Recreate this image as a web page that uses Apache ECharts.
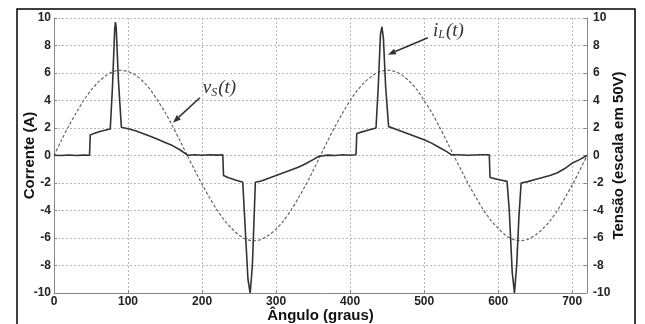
<!DOCTYPE html>
<html>
<head>
<meta charset="utf-8">
<script src="https://cdn.jsdelivr.net/npm/echarts@6/dist/echarts.min.js"></script>
<style>
  html, body { margin: 0; padding: 0; background: #fff; }
  #chart { width: 645px; height: 324px; }
</style>
</head>
<body>
<div id="chart"></div>
<script>
// Angle grid for the source voltage samples (degrees)
const vsAngles = [
  0, 10, 20, 30, 40, 50, 60, 70, 80, 90, 100, 110, 120, 130, 140, 150, 160, 170, 180,
  190, 200, 210, 220, 230, 240, 250, 260, 270, 280, 290, 300, 310, 320, 330, 340, 350, 360,
  370, 380, 390, 400, 410, 420, 430, 440, 450, 460, 470, 480, 490, 500, 510, 520, 530, 540,
  550, 560, 570, 580, 590, 600, 610, 620, 630, 640, 650, 660, 670, 680, 690, 700, 710, 720
];
// Source voltage v_S(t), scaled by 50 V per division
const vsValues = [
  0, 1.1, 2.15, 3.1, 4.0, 4.75, 5.35, 5.8, 6.1, 6.2, 6.1, 5.85, 5.4, 4.8, 4.0, 3.15, 2.15, 1.1, 0,
  -1.05, -2.1, -3.05, -3.95, -4.7, -5.3, -5.8, -6.1, -6.2, -6.1, -5.8, -5.35, -4.75, -4.0, -3.1, -2.15, -1.1, 0,
  1.1, 2.15, 3.1, 4.0, 4.75, 5.35, 5.8, 6.1, 6.2, 6.12, 5.85, 5.4, 4.8, 4.0, 3.15, 2.15, 1.1, 0,
  -1.05, -2.1, -3.05, -3.95, -4.7, -5.3, -5.8, -6.1, -6.2, -6.1, -5.8, -5.35, -4.75, -4.0, -3.1, -2.15, -1.1, 0
];

// Inductor current i_L(t): sample angles (degrees) and values (A)
const iLAngles = [
  0, 10, 20, 30, 40, 48, 49, 55, 62, 70, 76, 79, 82, 83, 84, 87, 91,
  100, 110, 120, 130, 140, 150, 160, 170, 178, 181, 190, 200, 210, 220, 228,
  229, 235, 245, 255, 258, 262, 265, 268, 272,
  280, 290, 300, 310, 320, 330, 340, 350, 358,
  370, 380, 390, 400, 408, 409, 415, 425, 435, 438, 441, 443, 445, 448, 452,
  460, 470, 480, 490, 500, 510, 520, 530, 537, 545, 560, 575, 588,
  589, 600, 612, 615, 619, 622, 625, 628, 631,
  640, 650, 660, 670, 680, 690, 700, 710, 720
];
const iLValues = [
  0.02, 0.0, 0.04, 0.0, 0.03, 0.02, 1.5, 1.62, 1.75, 1.85, 1.93, 5.0, 9.2, 9.7, 9.3, 5.5, 2.05,
  1.95, 1.8, 1.6, 1.4, 1.18, 0.95, 0.72, 0.42, 0.12, 0.02, 0.05, 0.02, 0.06, 0.03, 0.05,
  -1.45, -1.6, -1.78, -1.95, -5.0, -9.0, -10, -8.0, -1.95,
  -1.85, -1.65, -1.45, -1.25, -1.05, -0.85, -0.6, -0.3, -0.05,
  0.03, 0.0, 0.05, 0.02, 0.05, 1.6, 1.7, 1.85, 2.0, 5.0, 8.8, 9.35, 8.5, 5.0, 2.1,
  1.95, 1.75, 1.55, 1.35, 1.15, 0.9, 0.6, 0.3, 0.05, 0.05, 0.02, 0.05, 0.05,
  -1.6, -1.75, -1.88, -4.0, -8.5, -10, -8.0, -4.5, -2.0,
  -1.9, -1.75, -1.6, -1.45, -1.25, -0.95, -0.55, -0.3, 0.0
];

// Axis tick settings
const xTicks = { min: 0, max: 720, interval: 100 };
const yTicks = { min: -10, max: 10, interval: 2 };

// Callout anchors in data units: [tail, tip] and label origin
const vsCallout = { tail: [197, 4.2], tip: [160.7, 2.39], label: [201, 4.9] };
const iLCallout = { tail: [505, 8.57], tip: [451, 7.33], label: [512, 9.07] };

const vsData = vsAngles.map((a, i) => [a, vsValues[i]]);
const iLData = iLAngles.map((a, i) => [a, iLValues[i]]);

const chart = echarts.init(document.getElementById('chart'), null, { renderer: 'canvas' });

const labelStyle = {
  fontFamily: 'Liberation Sans, Arial, sans-serif',
  fontWeight: 'bold',
  fontSize: 12,
  color: '#222'
};
const nameStyle = {
  fontFamily: 'Liberation Sans, Arial, sans-serif',
  fontWeight: 'bold',
  fontSize: 15,
  color: '#111'
};
const gridLine = { show: true, lineStyle: { color: '#b8b8b8', type: [2, 2], width: 1 } };
const axisLine = { show: true, onZero: false, lineStyle: { color: '#888', width: 1 } };

function yAxisDef(pos, name, nameGap) {
  return {
    type: 'value',
    position: pos,
    min: yTicks.min, max: yTicks.max, interval: yTicks.interval,
    name: name,
    nameLocation: 'middle',
    nameGap: nameGap,
    nameMoveOverlap: false,
    nameTextStyle: nameStyle,
    axisLine: axisLine,
    axisTick: { show: true, inside: true, length: 3, lineStyle: { color: '#888' } },
    axisLabel: Object.assign({ margin: pos === 'left' ? 3 : 6 }, labelStyle),
    splitLine: pos === 'left' ? gridLine : { show: false }
  };
}

chart.setOption({
  animation: false,
  backgroundColor: '#fff',
  grid: { left: 54, right: 58, top: 18, bottom: 31, containLabel: false, outerBoundsMode: 'none' },
  xAxis: {
    type: 'value',
    min: xTicks.min, max: xTicks.max, interval: xTicks.interval,
    name: 'Ângulo (graus)',
    nameLocation: 'middle',
    nameGap: 15,
    nameMoveOverlap: false,
    nameTextStyle: nameStyle,
    axisLine: axisLine,
    axisTick: { show: true, inside: true, length: 3, lineStyle: { color: '#888' } },
    axisLabel: Object.assign({ margin: 3, showMaxLabel: false }, labelStyle),
    splitLine: gridLine
  },
  yAxis: [
    yAxisDef('left', 'Corrente (A)', 17),
    yAxisDef('right', 'Tensão (escala em 50V)', 24)
  ],
  series: [
    {
      name: 'vS',
      type: 'line',
      data: vsData,
      smooth: 0.3,
      showSymbol: false,
      lineStyle: { color: '#666', width: 1.2, type: [3, 2] },
      z: 2
    },
    {
      name: 'iL',
      type: 'line',
      data: iLData,
      showSymbol: false,
      lineStyle: { color: '#333', width: 1.6 },
      z: 3
    }
  ]
});

// Callouts: arrow + italic math label, placed through the chart's own coordinate system
function arrow(c) {
  const p0 = chart.convertToPixel({ gridIndex: 0 }, c.tail);
  const p1 = chart.convertToPixel({ gridIndex: 0 }, c.tip);
  const dx = p1[0] - p0[0], dy = p1[1] - p0[1];
  const len = Math.sqrt(dx * dx + dy * dy);
  const ux = dx / len, uy = dy / len;
  const head = 8, half = 3;
  const bx = p1[0] - ux * head, by = p1[1] - uy * head;
  return [
    {
      type: 'line',
      shape: { x1: p0[0], y1: p0[1], x2: bx, y2: by },
      style: { stroke: '#333', lineWidth: 1.6 }
    },
    {
      type: 'polygon',
      shape: { points: [[p1[0], p1[1]], [bx - uy * half, by + ux * half], [bx + uy * half, by - ux * half]] },
      style: { fill: '#333' }
    }
  ];
}
function mathLabel(c, main, sub) {
  const p = chart.convertToPixel({ gridIndex: 0 }, c.label);
  return {
    type: 'text',
    x: p[0], y: p[1],
    style: {
      text: '{m|' + main + '}{s|' + sub + '}{m|(t)}',
      verticalAlign: 'middle',
      rich: {
        m: { fontFamily: 'Liberation Serif, Times New Roman, serif', fontStyle: 'italic', fontSize: 19, fill: '#333' },
        s: { fontFamily: 'Liberation Serif, Times New Roman, serif', fontStyle: 'italic', fontSize: 12, fill: '#333', padding: [9, 1, 0, 0] }
      }
    }
  };
}

chart.setOption({
  graphic: [
    {
      type: 'rect',
      shape: { x: 17, y: 9, width: 618, height: 330 },
      style: { fill: 'none', stroke: '#000', lineWidth: 1.5 },
      silent: true
    },
    ...arrow(vsCallout),
    mathLabel(vsCallout, 'v', 'S'),
    ...arrow(iLCallout),
    mathLabel(iLCallout, 'i', 'L')
  ]
});
</script>
</body>
</html>
